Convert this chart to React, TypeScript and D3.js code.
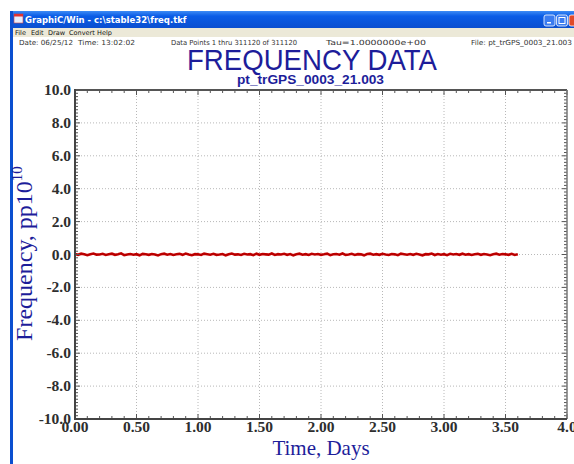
import * as d3 from 'd3';
import React from 'react';

// chart data
const X_TICKS = [0, 0.5, 1.0, 1.5, 2.0, 2.5, 3.0, 3.5, 4.0];
const X_TICK_LABELS = ['0.00', '0.50', '1.00', '1.50', '2.00', '2.50', '3.00', '3.50', '4.0'];
const Y_TICKS = [10, 8, 6, 4, 2, 0, -2, -4, -6, -8, -10];
const Y_TICK_LABELS = ['10.0', '8.0', '6.0', '4.0', '2.0', '0.0', '-2.0', '-4.0', '-6.0', '-8.0', '-10.0'];
const DAY_STEP = 0.025;
const FREQ_VALUES = [
    0.03, -0.02, 0.05, 0.01, -0.04, 0.02, 0.06, -0.01, 0.00, 0.04, -0.03, 0.02, 0.05, -0.02, 0.01, 0.07, -0.04, 0.00, 0.03, -0.01,
    0.02, -0.05, 0.04, 0.01, -0.02, 0.03, 0.00, -0.06, 0.02, 0.05, -0.01, 0.03, -0.03, 0.01, 0.04, -0.02, 0.06, 0.00, -0.04, 0.02,
    0.01, -0.03, 0.05, 0.02, -0.01, 0.04, -0.02, 0.00, 0.03, -0.05, 0.02, 0.06, -0.01, 0.01, -0.03, 0.04, 0.00, 0.02, -0.04, 0.05,
    -0.02, 0.03, 0.01, -0.01, 0.06, -0.03, 0.02, 0.00, 0.04, -0.02, 0.03, -0.05, 0.01, 0.05, -0.01, 0.02, -0.03, 0.04, 0.00, 0.03,
    -0.02, 0.01, 0.05, -0.04, 0.02, 0.03, -0.01, 0.06, -0.02, 0.00, 0.04, -0.03, 0.02, 0.01, -0.05, 0.03, 0.05, -0.01, 0.02, -0.02,
    0.04, 0.00, -0.03, 0.03, 0.01, -0.04, 0.05, 0.02, -0.01, 0.03, -0.02, 0.04, 0.00, -0.05, 0.02, 0.01, 0.06, -0.03, 0.03, -0.01,
    0.02, -0.04, 0.04, 0.00, 0.03, -0.02, 0.05, -0.01, 0.02, -0.03, 0.01, 0.04, -0.02, 0.03, 0.00, -0.04, 0.02, 0.05, -0.01, 0.03,
    0.01, -0.02, 0.04, -0.03, 0.02,
];
const MENU_ITEMS = ['File', 'Edit', 'Draw', 'Convert', 'Help'];
const HEADER_TEXTS = ['Date: 06/25/12', 'Time: 13:02:02', 'Data Points 1 thru 311120 of 311120', 'Tau=1.0000000e+00', 'File: pt_trGPS_0003_21.003'];

const W = 574;
const H = 464;
const plot = { left: 75, right: 567, top: 90, bottom: 419 };
const BLUE = '#1d1d9a';

const App = () => {
    const x = d3.scaleLinear().domain([0, 4]).range([plot.left, plot.right]);
    const y = d3.scaleLinear().domain([-10, 10]).range([plot.bottom, plot.top]);

    const line = d3.line<number>()
        .x((d, i) => x(i * DAY_STEP))
        .y(d => y(d));

    const xMinor = d3.range(0, 41).map(i => i / 10);
    const yMinor = d3.range(-50, 51).map(i => i / 5);

    const menuX = [15, 31, 48, 69, 97];
    // left edge and width of each header text
    const headerPos = [[19, 54], [78, 57], [171, 126], [326, 100], [471, 101]];

    return (
        <div style={{ position: 'fixed', left: 0, top: 0 }}>
            <svg width={W} height={H} style={{ display: 'block' }}>
                <defs>
                    <linearGradient id="tb" x1="0" x2="0" y1="0" y2="1">
                        <stop offset="0" stopColor="#3d8bf5" />
                        <stop offset="0.3" stopColor="#0a5ce6" />
                        <stop offset="1" stopColor="#0b4fd0" />
                    </linearGradient>
                </defs>
                <rect width={W} height={H} fill="#fff" />

                {/* window chrome */}
                <rect x={10} y={11} width={W - 10} height={17} fill="url(#tb)" />
                <rect x={14} y={14} width={9} height={9} fill="#e8eefc" stroke="#c44" strokeWidth={0.6} />
                <rect x={14} y={14} width={9} height={2.5} fill="#d33" />
                <text x={25} y={23} fontFamily="Tahoma, 'DejaVu Sans', sans-serif" fontSize={8.5} fontWeight="bold" fill="#fff">
                    GraphiC/Win - c:\stable32\freq.tkf
                </text>
                <rect x={544} y={15} width={11} height={11} rx={2} fill="#3b7cf0" stroke="#fff" strokeWidth={0.8} />
                <rect x={547} y={22} width={4} height={1.5} fill="#fff" />
                <rect x={556.5} y={15} width={11} height={11} rx={2} fill="#3b7cf0" stroke="#fff" strokeWidth={0.8} />
                <rect x={559} y={17.5} width={6} height={6} fill="none" stroke="#fff" strokeWidth={1} />
                <rect x={569} y={15} width={11} height={11} rx={2} fill="#e04a2a" stroke="#fff" strokeWidth={0.8} />
                <rect x={10} y={28} width={W - 10} height={9} fill="#ece9d8" />
                {MENU_ITEMS.map((m, i) => (
                    <text key={m} x={menuX[i]} y={35} fontFamily="Tahoma, 'DejaVu Sans', sans-serif" fontSize={6.5} fill="#111">
                        {m}
                    </text>
                ))}
                <rect x={10} y={11} width={3} height={H - 11} fill="#0b4fd0" />

                {/* header line */}
                <g fontFamily="'DejaVu Sans', sans-serif" fontSize={7} fill="#333">
                    {HEADER_TEXTS.map((t, i) => (
                        <text key={t} x={headerPos[i][0]} y={45} textLength={headerPos[i][1]} lengthAdjust="spacingAndGlyphs">{t}</text>
                    ))}
                </g>

                {/* titles */}
                <text x={187} y={70} fontFamily="'Liberation Sans', Arial, sans-serif" fontSize={30} fill={BLUE}
                    textLength={250} lengthAdjust="spacingAndGlyphs">FREQUENCY DATA</text>
                <text x={237} y={84} fontFamily="'Liberation Sans', Arial, sans-serif" fontSize={13.5} fontWeight="bold" fill={BLUE}
                    textLength={147} lengthAdjust="spacingAndGlyphs">pt_trGPS_0003_21.003</text>

                {/* grid */}
                <g stroke="#b8b8b8" strokeWidth={1} strokeDasharray="1,2">
                    {X_TICKS.slice(1, -1).map(t => (
                        <line key={'gx' + t} x1={x(t)} x2={x(t)} y1={plot.top} y2={plot.bottom} />
                    ))}
                    {Y_TICKS.slice(1, -1).map(t => (
                        <line key={'gy' + t} x1={plot.left} x2={plot.right} y1={y(t)} y2={y(t)} />
                    ))}
                </g>

                {/* data */}
                <path d={line(FREQ_VALUES) || ''} fill="none" stroke="#c80000" strokeWidth={2.6} strokeLinejoin="miter" />
                <path d={line(FREQ_VALUES) || ''} fill="none" stroke="#8a0000" strokeWidth={0.7} strokeOpacity={0.6} />

                {/* minor and major ticks */}
                <g stroke="#555" strokeWidth={1}>
                    {xMinor.map(t => {
                        const len = Number.isInteger(Math.round(t * 100) / 50) ? 5 : 3;
                        return (
                            <g key={'tx' + t}>
                                <line x1={x(t)} x2={x(t)} y1={plot.bottom} y2={plot.bottom - len} />
                                <line x1={x(t)} x2={x(t)} y1={plot.top} y2={plot.top + len} />
                            </g>
                        );
                    })}
                    {yMinor.map(t => {
                        const len = Number.isInteger(Math.round(t * 10) / 20) ? 5 : 3;
                        return (
                            <g key={'ty' + t}>
                                <line x1={plot.left} x2={plot.left + len} y1={y(t)} y2={y(t)} />
                                <line x1={plot.right} x2={plot.right - len} y1={y(t)} y2={y(t)} />
                            </g>
                        );
                    })}
                </g>

                {/* frame */}
                <line x1={plot.left} x2={plot.right} y1={plot.top} y2={plot.top} stroke="#555" strokeWidth={2} />
                <line x1={plot.right} x2={plot.right} y1={plot.top} y2={plot.bottom} stroke="#777" strokeWidth={1.5} />
                <line x1={plot.left} x2={plot.left} y1={plot.top - 1} y2={plot.bottom + 1} stroke="#444" strokeWidth={2} />
                <line x1={plot.left} x2={plot.right} y1={plot.bottom} y2={plot.bottom} stroke="#444" strokeWidth={2} />

                {/* tick labels */}
                <g fontFamily="'Liberation Serif', 'Times New Roman', serif" fontSize={15.5} fontWeight="bold" fill="#2e2e2e">
                    {X_TICKS.map((t, i) => (
                        <text key={'lx' + t} x={x(t)} y={432} textAnchor="middle">{X_TICK_LABELS[i]}</text>
                    ))}
                    {Y_TICKS.map((t, i) => (
                        <text key={'ly' + t} x={71} y={y(t) + 5} textAnchor="end">{Y_TICK_LABELS[i]}</text>
                    ))}
                </g>

                {/* axis titles */}
                <text x={321} y={455} textAnchor="middle" fontFamily="'Liberation Serif', 'Times New Roman', serif"
                    fontSize={21} fill={BLUE}>Time, Days</text>
                <text transform={`translate(32, ${(plot.top + plot.bottom) / 2 - 1}) rotate(-90)`} textAnchor="middle"
                    fontFamily="'Liberation Serif', 'Times New Roman', serif" fontSize={24} fill={BLUE}>
                    Frequency, pp10<tspan dy={-10} fontSize={15}>10</tspan>
                </text>
            </svg>
        </div>
    );
};

export default App;
